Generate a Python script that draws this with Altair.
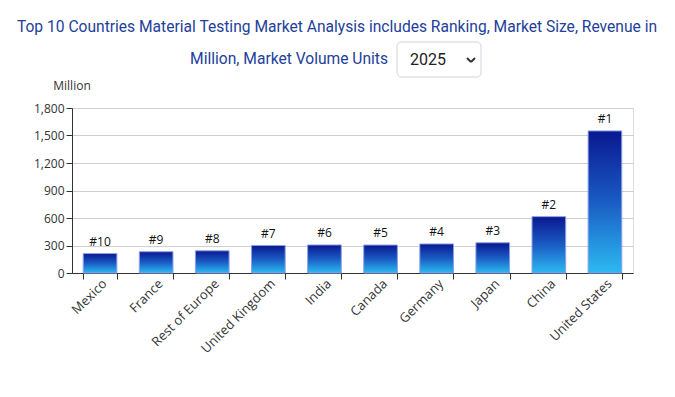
import altair as alt
import pandas as pd

countries = ["Mexico", "France", "Rest of Europe", "United Kingdom", "India",
             "Canada", "Germany", "Japan", "China", "United States"]
values = [212, 232, 242, 300, 306, 305, 317, 330, 615, 1550]
ranks = ["#10", "#9", "#8", "#7", "#6", "#5", "#4", "#3", "#2", "#1"]
title_line1 = "Top 10 Countries Material Testing Market Analysis includes Ranking, Market Size, Revenue in"
title_line2 = "Million, Market Volume Units"
year = "2025"
y_ticks = [0, 300, 600, 900, 1200, 1500, 1800]

df = pd.DataFrame({"country": countries, "value": values, "rank": ranks})

FONT = "Open Sans"
W, H = 561, 165

x_axis = alt.Axis(labelAngle=-45, labelFont=FONT, labelFontSize=13,
                  labelColor="#333", domainColor="#333", tickColor="#333",
                  tickSize=6, tickBand="extent", labelPadding=-2, title=None)
y_axis = alt.Axis(values=y_ticks, format=",d", labelFont=FONT, labelFontSize=12,
                  labelColor="#333", domainColor="#333", tickColor="#333",
                  tickSize=6, gridColor="#cfcfcf", labelPadding=2,
                  labelOverlap=False, title=None)
x_enc = alt.X("country:N", sort=countries, title=None,
              scale=alt.Scale(paddingInner=0.4, paddingOuter=0.2), axis=x_axis)
y_enc = alt.Y("value:Q", title=None,
              scale=alt.Scale(domain=[0, 1800], nice=False), axis=y_axis)

gradient = alt.Gradient(
    gradient="linear", x1=0, y1=0, x2=0, y2=1,
    stops=[alt.GradientStop(color="#0a1890", offset=0),
           alt.GradientStop(color="#1a5cc4", offset=0.5),
           alt.GradientStop(color="#2cbaf2", offset=1)])

base = alt.Chart(df)
bars = base.mark_bar(color=gradient, stroke="#8d9fe6", strokeWidth=1).encode(x=x_enc, y=y_enc)
labels = base.mark_text(dy=-5, baseline="bottom", font=FONT, fontSize=12, color="#111").encode(
    x=x_enc, y=y_enc, text="rank:N")

one = pd.DataFrame({"a": [0]})
t1 = alt.Chart(pd.DataFrame({"t": [title_line1]})).mark_text(
    font="Roboto", fontSize=15.6, color="#23409a", align="center", baseline="middle").encode(
    x=alt.value(265), y=alt.value(-81), text="t:N")
t2 = alt.Chart(pd.DataFrame({"t": [title_line2]})).mark_text(
    font="Roboto", fontSize=15.6, color="#23409a", align="right", baseline="middle").encode(
    x=alt.value(316), y=alt.value(-49), text="t:N")
box = alt.Chart(one).mark_rect(fill="white", stroke="#cfd4da", strokeWidth=1, cornerRadius=4).encode(
    x=alt.value(325), x2=alt.value(409), y=alt.value(-66), y2=alt.value(-31))
yr = alt.Chart(pd.DataFrame({"t": [year]})).mark_text(
    font="Roboto", fontSize=16, color="#222", align="center", baseline="middle").encode(
    x=alt.value(356), y=alt.value(-48), text="t:N")
chev_l = alt.Chart(one).mark_rule(color="#333", strokeWidth=2).encode(
    x=alt.value(395), x2=alt.value(399), y=alt.value(-50), y2=alt.value(-46))
chev_r = alt.Chart(one).mark_rule(color="#333", strokeWidth=2).encode(
    x=alt.value(399), x2=alt.value(403), y=alt.value(-46), y2=alt.value(-50))
unit = alt.Chart(pd.DataFrame({"t": ["Million"]})).mark_text(
    font=FONT, fontSize=12, color="#333", align="center", baseline="middle").encode(
    x=alt.value(0), y=alt.value(-22), text="t:N")

chart = alt.layer(bars, labels, t1, t2, box, yr, chev_l, chev_r, unit).properties(
    width=W, height=H,
    autosize=alt.AutoSizeParams(type="none"),
    padding={"left": 64, "top": 100, "right": 34, "bottom": 116},
).configure_view(stroke="transparent").configure(background="white")

chart.save("out.html", embed_options={"renderer": "svg", "actions": False})
